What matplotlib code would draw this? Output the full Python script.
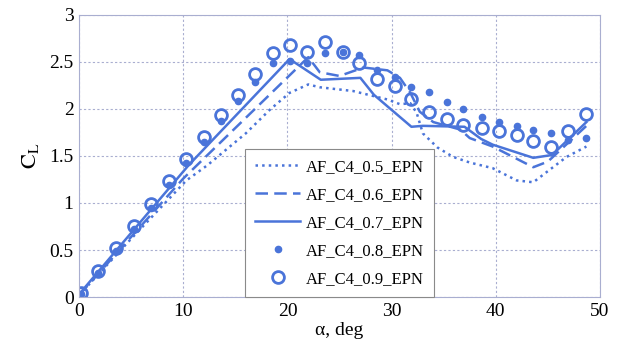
# CL vs alpha for AF_C4 at several EPN values
import matplotlib.pyplot as plt

blue = '#4a74d9'

# line series (alpha, CL)
a05 = [0, 5.0, 10.3, 12.3, 16.0, 18.3, 20.2, 22.0, 23.1, 26.3, 29.6, 30.8, 31.8, 32.4,
       33.0, 34.4, 35.9, 37.5, 39.7, 42.0, 43.6, 44.9, 46.8, 48.7]
cl05 = [0.02, 0.62, 1.24, 1.40, 1.74, 1.99, 2.17, 2.26, 2.23, 2.19, 2.10, 2.05, 2.06, 1.96,
        1.74, 1.59, 1.49, 1.43, 1.37, 1.24, 1.22, 1.33, 1.49, 1.60]

a06 = [0, 10.0, 22.0, 23.1, 25.0, 27.3, 29.6, 30.8, 31.8, 32.7, 34.0, 36.6, 37.5, 39.7,
       43.6, 45.0, 48.8]
cl06 = [0.02, 1.26, 2.55, 2.39, 2.35, 2.44, 2.41, 2.33, 2.17, 1.97, 1.86, 1.78, 1.69, 1.60,
        1.38, 1.44, 1.83]

a07 = [0, 10.5, 20.2, 23.2, 27.0, 28.3, 31.9, 33.0, 37.0, 38.6, 39.7, 43.6, 45.4, 48.7]
cl07 = [0.03, 1.40, 2.53, 2.31, 2.33, 2.15, 1.81, 1.82, 1.81, 1.68, 1.62, 1.48, 1.51, 1.86]

# marker series
a_pts = [0.2, 1.8, 3.5, 5.3, 6.9, 8.6, 10.3, 12.0, 13.6, 15.3, 16.9, 18.6, 20.2, 21.9, 23.6,
         25.3, 26.9, 28.6, 30.3, 31.9, 33.6, 35.3, 36.9, 38.7, 40.3, 42.0, 43.6, 45.3, 46.9, 48.7]
cl08 = [0.03, 0.26, 0.49, 0.72, 0.95, 1.19, 1.42, 1.65, 1.87, 2.08, 2.29, 2.49, 2.51, 2.49, 2.59,
        2.60, 2.57, 2.41, 2.34, 2.23, 2.18, 2.07, 2.00, 1.91, 1.86, 1.82, 1.78, 1.74, 1.67, 1.69]
cl09 = [0.04, 0.28, 0.52, 0.75, 0.99, 1.23, 1.47, 1.70, 1.93, 2.15, 2.37, 2.59, 2.68, 2.60, 2.71,
        2.60, 2.49, 2.32, 2.24, 2.11, 1.97, 1.89, 1.83, 1.80, 1.77, 1.72, 1.66, 1.60, 1.77, 1.95]

labels = ['AF_C4_0.5_EPN', 'AF_C4_0.6_EPN', 'AF_C4_0.7_EPN', 'AF_C4_0.8_EPN', 'AF_C4_0.9_EPN']

plt.rcParams['font.family'] = ['Liberation Serif', 'DejaVu Serif']
plt.rcParams['mathtext.fontset'] = 'stix'

fig = plt.figure(figsize=(6.23, 3.45), dpi=100)
ax = fig.add_axes([0.127, 0.139, 0.836, 0.818])

ax.plot(a05, cl05, ':', color=blue, lw=1.8, label=labels[0])
ax.plot(a06, cl06, '--', color=blue, lw=1.8, dashes=(5, 2.5), label=labels[1])
ax.plot(a07, cl07, '-', color=blue, lw=1.8, label=labels[2])
ax.plot(a_pts, cl08, 'o', color=blue, ms=4.5, ls='none', label=labels[3])
ax.plot(a_pts, cl09, 'o', mfc='none', mec=blue, mew=2, ms=8.5, ls='none', label=labels[4])

ax.set_xlim(0, 50)
ax.set_ylim(0, 3)
ax.set_xticks([0, 10, 20, 30, 40, 50])
ax.set_yticks([0, 0.5, 1, 1.5, 2, 2.5, 3])
ax.set_yticklabels(['0', '0.5', '1', '1.5', '2', '2.5', '3'])
ax.tick_params(length=0, labelsize=14, pad=4)
ax.grid(True, ls=(0, (2, 2)), color='#a9aed0', lw=0.8)
for s in ax.spines.values():
    s.set_color('#a9aed0')

ax.set_xlabel('α, deg', fontsize=14, labelpad=2)
ax.set_ylabel(r'$\mathrm{C_L}$', fontsize=16, labelpad=6)

leg = ax.legend(loc='lower left', bbox_to_anchor=(0.319, 0.0), borderaxespad=0,
                fontsize=12, fancybox=False, framealpha=1, edgecolor='#8a8a8a',
                handlelength=2.7, handletextpad=0.35, labelspacing=0.72, borderpad=0.6)
leg.get_frame().set_linewidth(0.8)

plt.savefig('out.png', dpi=100)
